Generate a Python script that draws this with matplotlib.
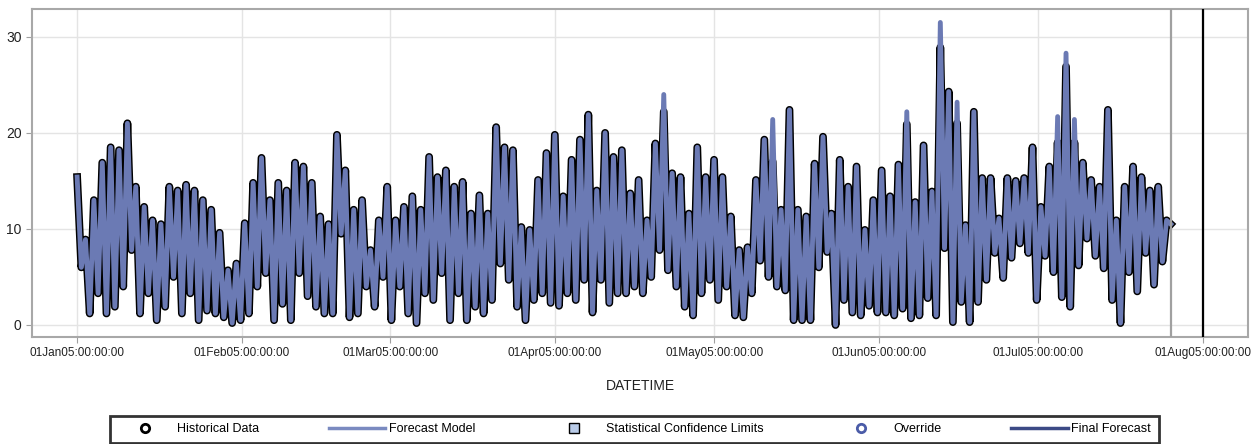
import matplotlib
matplotlib.use('Agg')
import matplotlib.pyplot as plt
import matplotlib.dates as mdates
from matplotlib.lines import Line2D
import pandas as pd
import numpy as np

plt.rcParams['font.family'] = ['Liberation Sans Narrow', 'Liberation Sans', 'DejaVu Sans']

# local highs / lows of the historical series (in time order)
hist_peaks = [
    15.4, 8.9, 13, 16.9, 18.5, 18.2, 21, 14.4, 12.3, 10.9, 10.5, 14.4, 14, 14.6, 14, 13,
    12, 9.6, 5.7, 6.4, 10.6, 14.8, 17.4, 13, 14.8, 14, 16.9, 16.5, 14.8, 11.3, 10.5, 19.8, 16.1,
    12, 13, 7.8, 10.9, 14.4, 10.9, 12.3, 13.4, 12, 17.5, 15.4, 16.1, 14.4, 14.9, 11.6, 13.5,
    11.6, 20.6, 18.5, 18.2, 10.2, 9.9, 15.1, 17.9, 19.8, 13.4, 17.2, 19.3, 21.9, 14, 20, 17.5, 18.2,
    13.7, 15.1, 10.9, 18.9, 22.2, 15.8, 15.4, 11.6, 18.5, 15.4, 17.2, 15.4, 11.3, 7.8, 8.1, 15.1, 19.3,
    17, 12, 22.4, 12, 11.3, 16.8, 19.6, 11.6, 17.2, 14.4, 16.5, 9.9, 13, 16.1, 13.4,
    16.7, 20.9, 12.8, 18.7, 13.9, 28.9, 24.3, 21, 10.4, 22.2, 15.3, 15.3, 11.1, 15.3, 15, 15.3,
    18.5, 12.3, 16.5, 19, 26.9, 19, 16.9, 15.1, 14.4, 22.4, 10.9, 14.4, 16.5, 15.4, 14, 14.4, 10.9,
]
hist_troughs = [
    6, 1.2, 3.3, 1.2, 1.9, 4, 7.8, 1.2, 3.3, 0.5, 1.9, 5, 1.2, 3.3, 0.5, 1.5,
    1.2, 0.8, 0.2, 0.5, 1.2, 4, 5.4, 0.5, 2.2, 0.5, 5.4, 3, 1.9, 1.2, 1.2, 9.5, 0.8,
    1.2, 4, 1.9, 5, 0.5, 4, 1.2, 0.2, 3.3, 2.6, 5.4, 0.5, 3.3, 0.5, 1.9, 1.2,
    2.6, 6.4, 4.7, 1.9, 0.5, 2.6, 3.3, 2.3, 2, 3.3, 2.6, 4.7, 1.3, 4.7, 2.3, 3.3, 3.3,
    4, 3.3, 5, 7.8, 5.7, 4, 1.9, 1, 3.3, 4.7, 2.6, 4, 1, 0.8, 3.3, 6.7, 5,
    4, 3.6, 0.5, 0.5, 0.5, 6, 7.6, 0, 2.6, 1.3, 1, 2, 1.3, 1.3, 1,
    1.7, 0.7, 1, 2.8, 1, 8, 0.3, 2.4, 0.3, 2.4, 4.7, 7.5, 4.9, 7, 8.5, 7.5,
    2.6, 7.2, 5.5, 2.9, 1.9, 6.2, 9, 7.2, 5.9, 2.6, 0.2, 5.5, 3.5, 7.5, 4.2, 6.6, 10.5,
]
# peaks where the forecast model overshoots the history
spike_index = [70, 83, 85, 99, 103, 105, 117, 118, 119]
spike_value = [24, 21.4, 22.4, 22.2, 31.5, 23.2, 21.7, 28.3, 21.4]

start = '2005-01-01 00:00'
end = '2005-07-25 23:00'
horizon = '2005-08-01 00:00'
xticks = pd.date_range('2005-01-01', '2005-08-01', freq='MS')
yticks = [0, 10, 20, 30]

hist = np.ravel(np.column_stack([hist_peaks, hist_troughs]))
fpk = list(hist_peaks)
for i, v in zip(spike_index, spike_value):
    fpk[i] = v
fcst = np.ravel(np.column_stack([fpk, hist_troughs]))
times = pd.date_range(start, end, periods=len(hist))

fig = plt.figure(figsize=(12.53, 4.44), dpi=100)
ax = fig.add_axes([32/1253, 1-337/444, 1216/1253, 328/444])

ax.plot(times, hist, color='black', lw=5.6, solid_joinstyle='round', zorder=3)
ax.plot(times, fcst, color='#6b7ab4', lw=3.5, solid_joinstyle='round', zorder=4)

ax.axvline(times[-1], color='#a0a0a0', lw=1.6, zorder=5)
ax.axvline(pd.Timestamp(horizon), color='black', lw=1.6, zorder=5)

ax.set_xlim(pd.Timestamp('2004-12-23 12:00'), pd.Timestamp('2005-08-09 12:00'))
ax.set_ylim(-1.25, 32.9)
ax.set_xticks(xticks)
ax.xaxis.set_major_formatter(mdates.DateFormatter('%d%b%y:%H:%M:%S'))
ax.set_yticks(yticks)
ax.grid(True, color='#e4e4e4', lw=1, zorder=0)
ax.set_axisbelow(True)
for s in ax.spines.values():
    s.set_color('#a8a8a8')
    s.set_linewidth(1.5)
ax.tick_params(colors='#a0a0a0', labelcolor='#222222', labelsize=8.5, length=4)
ax.tick_params(axis='y', labelsize=10)
ax.set_xlabel('DATETIME', fontsize=10, color='#222222', labelpad=14)

handles = [
    Line2D([], [], ls='none', marker='o', mfc='none', mec='black', mew=2, ms=6),
    Line2D([], [], color='#7a8ac0', lw=2.5),
    Line2D([], [], ls='none', marker='s', mfc='#b9cbe8', mec='black', mew=1, ms=7),
    Line2D([], [], ls='none', marker='o', mfc='none', mec='#4b5ca8', mew=2, ms=6),
    Line2D([], [], color='#3c4a86', lw=2.5),
]
labels = ['Historical Data', 'Forecast Model', 'Statistical Confidence Limits', 'Override', 'Final Forecast']
leg = fig.legend(handles, labels, loc='lower center', bbox_to_anchor=(0.506, 0.0), ncol=5,
                 fontsize=9, frameon=True, fancybox=False, handlelength=4.5,
                 columnspacing=5.6, borderpad=0.6, handletextpad=0.3, borderaxespad=0.1)
leg.get_frame().set_edgecolor('black')
leg.get_frame().set_linewidth(2)

fig.savefig('out.png', dpi=100)
